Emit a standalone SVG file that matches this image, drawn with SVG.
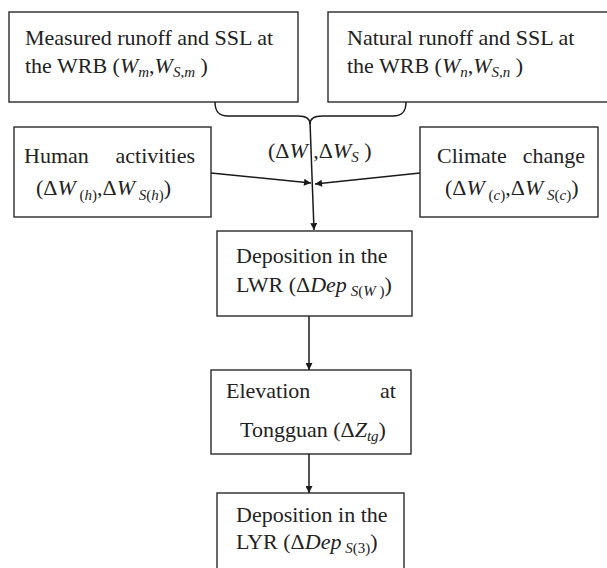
<svg xmlns="http://www.w3.org/2000/svg" width="607" height="568" viewBox="0 0 607 568">
<defs>
<style>
.box{fill:#fff;stroke:#2a2a2a;stroke-width:1.4}
.t{font-family:'Liberation Serif','Tinos','DejaVu Serif',serif;font-size:22px;fill:#222}
.i{font-style:italic}
.s{font-size:15px}
.con{fill:none;stroke:#1a1a1a;stroke-width:1.5}
</style>
<marker id="ah" viewBox="0 0 10 10" refX="10" refY="5" markerWidth="8" markerHeight="7" markerUnits="userSpaceOnUse" orient="auto">
<path d="M0,0 L10,5 L0,10 z" fill="#1a1a1a"/>
</marker>
</defs>
<rect width="607" height="568" fill="#fff"/>

<g id="measured">
<rect class="box" x="9" y="12" width="289" height="90"/>
<text class="t" x="25" y="45">Measured runoff and SSL at</text>
<text class="t" x="25" y="73">the  WRB (<tspan class="i">W</tspan><tspan class="s i" dy="4">m</tspan><tspan dy="-4">,</tspan><tspan class="i">W</tspan><tspan class="s i" dy="4">S</tspan><tspan class="s">,</tspan><tspan class="s i">m</tspan><tspan dy="-4"> )</tspan></text>
</g>

<g id="natural">
<rect class="box" x="328" y="12" width="285" height="90"/>
<text class="t" x="347" y="45">Natural runoff and SSL at</text>
<text class="t" x="347" y="73">the  WRB (<tspan class="i">W</tspan><tspan class="s i" dy="4">n</tspan><tspan dy="-4">,</tspan><tspan class="i">W</tspan><tspan class="s i" dy="4">S</tspan><tspan class="s">,</tspan><tspan class="s i">n</tspan><tspan dy="-4"> )</tspan></text>
</g>

<g id="human">
<rect class="box" x="14" y="127" width="197" height="90"/>
<text class="t" x="24" y="163">Human</text>
<text class="t" x="195" y="163" text-anchor="end">activities</text>
<text class="t" x="36" y="195">(Δ<tspan class="i">W</tspan><tspan class="s" dy="5"> (</tspan><tspan class="s i">h</tspan><tspan class="s">)</tspan><tspan dy="-5">,Δ</tspan><tspan class="i">W</tspan><tspan class="s i" dy="5"> S</tspan><tspan class="s">(</tspan><tspan class="s i">h</tspan><tspan class="s">)</tspan><tspan dy="-5">)</tspan></text>
</g>

<g id="climate">
<rect class="box" x="420" y="127" width="178" height="90"/>
<text class="t" x="437" y="163">Climate</text>
<text class="t" x="585" y="163" text-anchor="end">change</text>
<text class="t" x="445" y="195">(Δ<tspan class="i">W</tspan><tspan class="s" dy="5"> (</tspan><tspan class="s i">c</tspan><tspan class="s">)</tspan><tspan dy="-5">,Δ</tspan><tspan class="i">W</tspan><tspan class="s i" dy="5"> S</tspan><tspan class="s">(</tspan><tspan class="s i">c</tspan><tspan class="s">)</tspan><tspan dy="-5">)</tspan></text>
</g>

<g id="lwr">
<rect class="box" x="217" y="231" width="195" height="85"/>
<text class="t" x="236" y="263">Deposition in the</text>
<text class="t" x="236" y="292">LWR  (Δ<tspan class="i">Dep</tspan><tspan class="s i" dy="4"> S</tspan><tspan class="s">(</tspan><tspan class="s i">W</tspan><tspan class="s"> )</tspan><tspan dy="-4">)</tspan></text>
</g>

<g id="elevation">
<rect class="box" x="211" y="370" width="200" height="84"/>
<text class="t" x="226" y="398">Elevation</text>
<text class="t" x="396" y="398" text-anchor="end">at</text>
<text class="t" x="240" y="437">Tongguan  (Δ<tspan class="i">Z</tspan><tspan class="s i" dy="4">tg</tspan><tspan dy="-4">)</tspan></text>
</g>

<g id="lyr">
<rect class="box" x="217" y="493" width="187" height="90"/>
<text class="t" x="236" y="522">Deposition in the</text>
<text class="t" x="236" y="549">LYR (Δ<tspan class="i">Dep</tspan><tspan class="s i" dy="4"> S</tspan><tspan class="s">(3)</tspan><tspan dy="-4">)</tspan></text>
</g>

<text class="t" x="268" y="158">(Δ<tspan class="i">W</tspan> ,Δ<tspan class="i">W</tspan><tspan class="s i" dy="4">S</tspan><tspan dy="-4"> )</tspan></text>

<g id="connectors">
<path class="con" d="M215,102 C215,112 219,116 228,116 L298,116 C306,116 310,119 310,124"/>
<path class="con" d="M406,102 C406,112 402,116 393,116 L322,116 C314,116 310,119 310,124"/>
<path class="con" d="M310,122 L314,230" marker-end="url(#ah)"/>
<path class="con" d="M211,173 L311,183" marker-end="url(#ah)"/>
<path class="con" d="M420,173 L315,184" marker-end="url(#ah)"/>
<path class="con" d="M309,316 L309,370" marker-end="url(#ah)"/>
<path class="con" d="M309,454 L309,493" marker-end="url(#ah)"/>
</g>
</svg>
